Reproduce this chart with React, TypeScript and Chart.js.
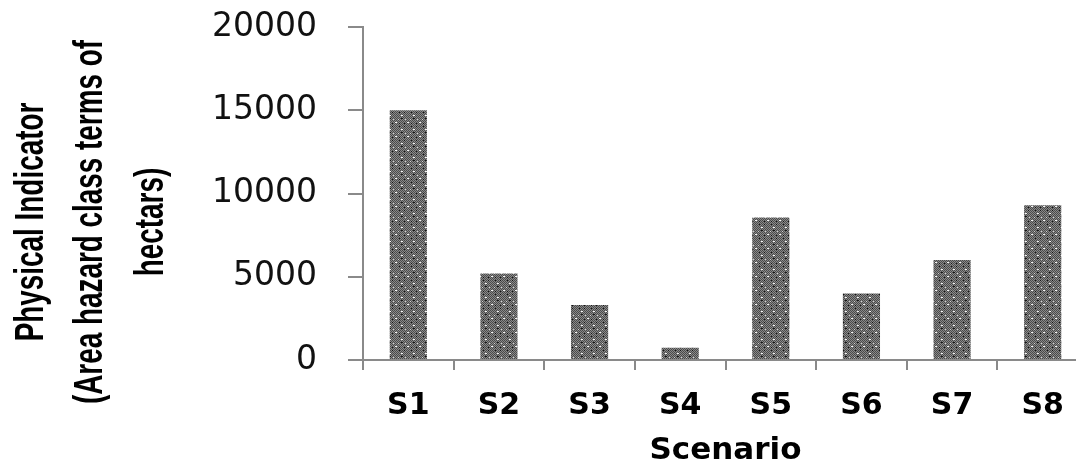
import React, { useEffect, useRef } from "react";
import { Chart, registerables } from "chart.js";

Chart.register(...registerables);

const categories: string[] = ["S1", "S2", "S3", "S4", "S5", "S6", "S7", "S8"];
const values: number[] = [15000, 5200, 3300, 740, 8560, 4000, 6000, 9300];
const yMin = 0;
const yMax = 20000;
const yStep = 5000;
const xTitle = "Scenario";
const yTitleLines: string[] = [
  "Physical Indicator",
  "(Area hazard class terms of",
  "hectars)",
];

const AXIS_COLOR = "#8a8a8a";

function makePattern(ctx: CanvasRenderingContext2D): CanvasPattern | string {
  const c = document.createElement("canvas");
  c.width = 12;
  c.height = 14;
  const g = c.getContext("2d");
  if (!g) return "#7a7a7a";
  g.fillStyle = "#8a8a8a";
  g.fillRect(0, 0, 12, 14);
  for (let y = 0; y < 14; y++) {
    for (let x = 0; x < 12; x++) {
      if ((x + y) % 2 === 0) {
        g.fillStyle = "#4a4a4a";
        g.fillRect(x, y, 1, 1);
      }
    }
  }
  g.fillStyle = "#f4f4f4";
  g.fillRect(5, 3, 2, 1);
  g.fillRect(11, 10, 1, 1);
  g.fillRect(0, 10, 1, 1);
  g.fillStyle = "#cfcfcf";
  g.fillRect(2, 7, 1, 1);
  g.fillRect(9, 7, 1, 1);
  g.fillStyle = "#151515";
  g.fillRect(3, 0, 1, 1);
  g.fillRect(8, 0, 1, 1);
  g.fillRect(5, 6, 2, 1);
  g.fillRect(3, 11, 1, 1);
  g.fillRect(8, 11, 1, 1);
  return ctx.createPattern(c, "repeat") || "#7a7a7a";
}

const yTitlePlugin = {
  id: "yTitlePlugin",
  afterDraw(chart: any) {
    const ctx: CanvasRenderingContext2D = chart.ctx;
    const xs = [32, 91, 152];
    const cy = 222;
    ctx.save();
    ctx.fillStyle = "#000";
    ctx.font = 'bold 34px "Liberation Sans", Arial, sans-serif';
    ctx.textAlign = "center";
    ctx.textBaseline = "middle";
    yTitleLines.forEach((line, i) => {
      ctx.save();
      ctx.translate(xs[i], cy);
      ctx.rotate(-Math.PI / 2);
      ctx.scale(0.82, 1.22);
      ctx.fillText(line, 0, 0);
      ctx.restore();
    });
    ctx.restore();
  },
};

export default function App() {
  const ref = useRef<HTMLCanvasElement | null>(null);

  useEffect(() => {
    const canvas = ref.current;
    if (!canvas) return;
    const ctx = canvas.getContext("2d");
    if (!ctx) return;
    const pattern = makePattern(ctx);
    const chart = new Chart(ctx, {
      type: "bar",
      data: {
        labels: categories,
        datasets: [
          {
            data: values,
            backgroundColor: pattern as any,
            borderWidth: 0,
            barPercentage: 1,
            categoryPercentage: 0.41,
          },
        ],
      },
      plugins: [yTitlePlugin],
      options: {
        responsive: false,
        animation: false,
        devicePixelRatio: 1,
        layout: { padding: { left: 0, right: 12, top: 0, bottom: 0 } },
        plugins: {
          legend: { display: false },
          tooltip: { enabled: false },
          title: { display: false },
        },
        scales: {
          x: {
            offset: true,
            grid: {
              display: true,
              offset: true,
              drawOnChartArea: false,
              drawTicks: true,
              tickLength: 10,
              color: AXIS_COLOR,
              lineWidth: 2,
            },
            border: { display: true, color: AXIS_COLOR, width: 2 },
            ticks: {
              color: "#000",
              padding: 18,
              font: { family: "DejaVu Sans", size: 30, weight: "bold", lineHeight: 1.2 },
              maxRotation: 0,
              autoSkip: false,
            },
            title: {
              display: true,
              text: xTitle,
              color: "#000",
              font: { family: "DejaVu Sans", size: 31, weight: "bold", lineHeight: 0.9 },
              padding: { top: 10, bottom: 0 },
            },
            afterFit(scale: any) {
              scale.height = 105;
            },
          },
          y: {
            min: yMin,
            max: yMax,
            grid: {
              display: true,
              drawOnChartArea: false,
              drawTicks: true,
              tickLength: 15,
              color: AXIS_COLOR,
              lineWidth: 2,
            },
            border: { display: true, color: AXIS_COLOR, width: 2 },
            ticks: {
              stepSize: yStep,
              color: "#111",
              padding: 31,
              font: { family: "DejaVu Sans", size: 33, weight: "normal", lineHeight: 1.2 },
              callback: (v: any) => String(v),
            },
            title: { display: false },
            afterFit(scale: any) {
              scale.width = 363;
              scale.paddingTop = 27;
              scale.paddingBottom = 0;
            },
          },
        },
      },
    });
    return () => {
      chart.destroy();
    };
  }, []);

  return (
    <div
      style={{
        position: "absolute",
        left: 0,
        top: 0,
        width: 1076,
        height: 465,
        overflow: "hidden",
        background: "#fff",
      }}
    >
      <canvas ref={ref} width={1100} height={465} style={{ display: "block", width: 1100, height: 465 }} />
    </div>
  );
}
